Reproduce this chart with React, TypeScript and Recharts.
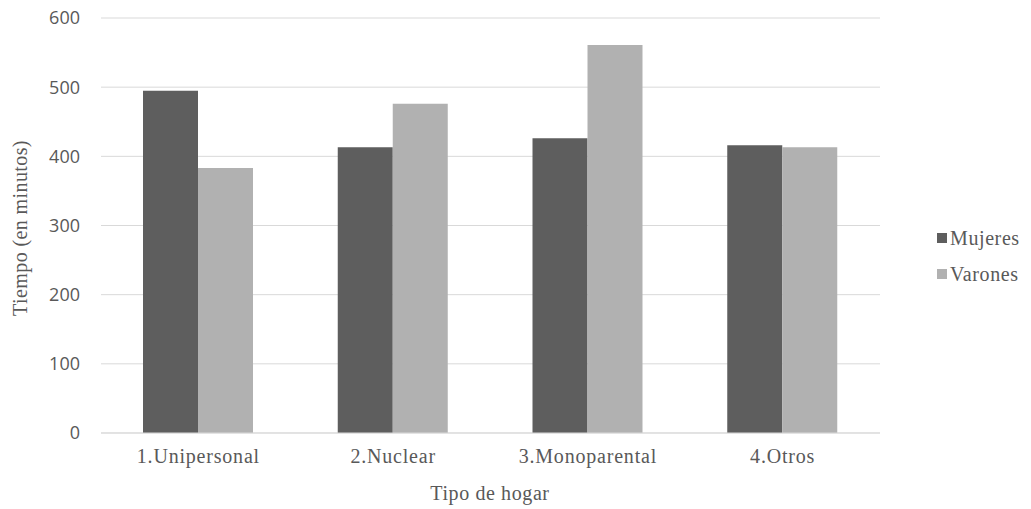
import React from "react";
import { BarChart, Bar, XAxis, YAxis, CartesianGrid, Label } from "recharts";

const categories = ["1.Unipersonal", "2.Nuclear", "3.Monoparental", "4.Otros"];
const mujeres = [495, 413, 426, 416];
const varones = [383, 476, 561, 413];
const yTicks = [0, 100, 200, 300, 400, 500, 600];
const seriesNames = ["Mujeres", "Varones"];
const seriesColors = ["#5e5e5e", "#b1b1b1"];

const data = categories.map((c, i) => ({ cat: c, Mujeres: mujeres[i], Varones: varones[i] }));

const SERIF = "Liberation Serif";
const SANS = "Open Sans";
const TXT = "#595959";

const CatTick = (props: any) => {
  const { x, y, payload } = props;
  return (
    <text x={x} y={y + 30} textAnchor="middle" fill={TXT} style={{ fontFamily: SERIF, fontSize: 20, letterSpacing: 0.8 }}>
      {payload.value}
    </text>
  );
};

const LegendBox = () => (
  <div style={{ position: "absolute", left: 937, top: 226, width: 94 }}>
    {seriesNames.map((n, i) => (
      <div key={n} style={{ display: "flex", alignItems: "center", height: 24, marginBottom: 12 }}>
        <span style={{ width: 10, height: 10, background: seriesColors[i], display: "inline-block", marginRight: 3 }} />
        <span style={{ fontFamily: SERIF, fontSize: 20, color: TXT, letterSpacing: 0.6, lineHeight: "24px" }}>{n}</span>
      </div>
    ))}
  </div>
);

export default function App() {
  return (
    <div style={{ position: "absolute", left: 0, top: 0, width: 1031, height: 509, background: "#fff" }}>
      <BarChart width={1031} height={509} data={data} margin={{ top: 18, right: 151, bottom: 0, left: 0 }} barSize={55} barGap={0}>
        <CartesianGrid vertical={false} stroke="#d9d9d9" />
        <XAxis
          dataKey="cat"
          axisLine={{ stroke: "#d9d9d9" }}
          tickLine={false}
          tickSize={0}
          tickMargin={0}
          height={76}
          tick={<CatTick />}
          interval={0}
        >
          <Label
            content={() => (
              <text x={490} y={500} textAnchor="middle" fill={TXT} style={{ fontFamily: SERIF, fontSize: 20, letterSpacing: 0.6 }}>
                Tipo de hogar
              </text>
            )}
          />
        </XAxis>
        <YAxis
          width={101}
          domain={[0, 600]}
          ticks={yTicks}
          axisLine={false}
          tickLine={false}
          tickMargin={15}
          tick={{ fill: TXT, fontFamily: SANS, fontSize: 18 }}
        >
          <Label
            content={() => (
              <text x={27} y={228} transform="rotate(-90 27 228)" textAnchor="middle" fill={TXT} style={{ fontFamily: SERIF, fontSize: 20, letterSpacing: 0.4 }}>
                Tiempo (en minutos)
              </text>
            )}
          />
        </YAxis>
        <Bar dataKey="Mujeres" fill={seriesColors[0]} isAnimationActive={false} />
        <Bar dataKey="Varones" fill={seriesColors[1]} isAnimationActive={false} />
      </BarChart>
      <LegendBox />
    </div>
  );
}
